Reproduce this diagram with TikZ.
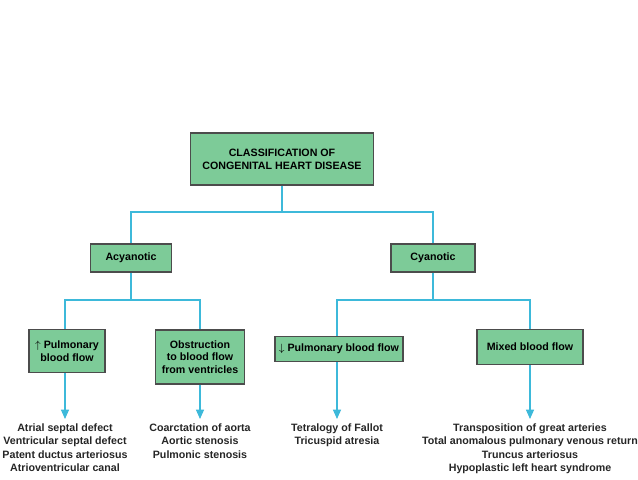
\documentclass[tikz,border=0pt]{standalone}
\usepackage{fontspec}
\setmainfont{Liberation Sans}
\usetikzlibrary{arrows.meta}
\definecolor{boxgreen}{HTML}{7DCB98}
\definecolor{linkblue}{HTML}{3DB9DA}
\tikzset{
  catbox/.style={draw=black!70, fill=boxgreen, thick, align=center, font=\bfseries\fontsize{8}{9.5}\selectfont, inner sep=3pt},
  link/.style={linkblue, thick},
  linkarrow/.style={linkblue, thick, -{Triangle[width=6pt,length=7pt]}},
  diseases/.style={align=center, anchor=north, font=\bfseries\fontsize{8}{10}\selectfont, text=black!85}
}
\begin{document}
\begin{tikzpicture}[x=0.75pt,y=-0.75pt]
		% Frame
		\useasboundingbox (0,0) rectangle (638,479);
		\fill[white] (0,0) rectangle (638,479);
		
		% Boxes
		\node[catbox, minimum width=183*0.75pt, minimum height=52*0.75pt] (chd) at (282,159) {CLASSIFICATION OF\\CONGENITAL HEART DISEASE};
		\node[catbox, minimum width=81*0.75pt, minimum height=28*0.75pt] (acy) at (131,258) {Acyanotic};
		\node[catbox, minimum width=84*0.75pt, minimum height=28*0.75pt] (cya) at (433,258) {Cyanotic};
		\node[catbox, minimum width=76*0.75pt, minimum height=43*0.75pt] (incr) at (67,351) {$\uparrow$ Pulmonary\\blood flow};
		\node[catbox, minimum width=89*0.75pt, minimum height=54*0.75pt] (obst) at (200,357) {Obstruction\\to blood flow\\from ventricles};
		\node[catbox, minimum width=126*0.75pt, minimum height=25*0.75pt] (decr) at (339,349) {$\downarrow$ Pulmonary blood flow};
		\node[catbox, minimum width=106*0.75pt, minimum height=35*0.75pt] (mixd) at (530,347) {Mixed blood flow};
		
		% Lists
		\node[diseases] (incrlist) at (65,419) {Atrial septal defect\\Ventricular septal defect\\Patent ductus arteriosus\\Atrioventricular canal};
		\node[diseases] (obstlist) at (200,419) {Coarctation of aorta\\Aortic stenosis\\Pulmonic stenosis};
		\node[diseases] (decrlist) at (337,419) {Tetralogy of Fallot\\Tricuspid atresia};
		\node[diseases] (mixdlist) at (530,419) {Transposition of great arteries\\Total anomalous pulmonary venous return\\Truncus arteriosus\\Hypoplastic left heart syndrome};
		
		% Tree lines
		\draw[link] (chd.south) -- (282,212) -| (acy.north);
		\draw[link] (282,212) -| (cya.north);
		\draw[link] (acy.south) -- (131,300) -| (incr.north -| 65,0);
		\draw[link] (131,300) -| (obst.north);
		\draw[link] (cya.south) -- (433,300) -| (decr.north -| 337,0);
		\draw[link] (433,300) -| (mixd.north);
		
		% Arrows
		\draw[linkarrow] (incr.south -| 65,0) -- (incrlist.north);
		\draw[linkarrow] (obst.south) -- (obstlist.north);
		\draw[linkarrow] (decr.south -| 337,0) -- (decrlist.north);
		\draw[linkarrow] (mixd.south) -- (mixdlist.north);
		
	\end{tikzpicture}
\end{document}
